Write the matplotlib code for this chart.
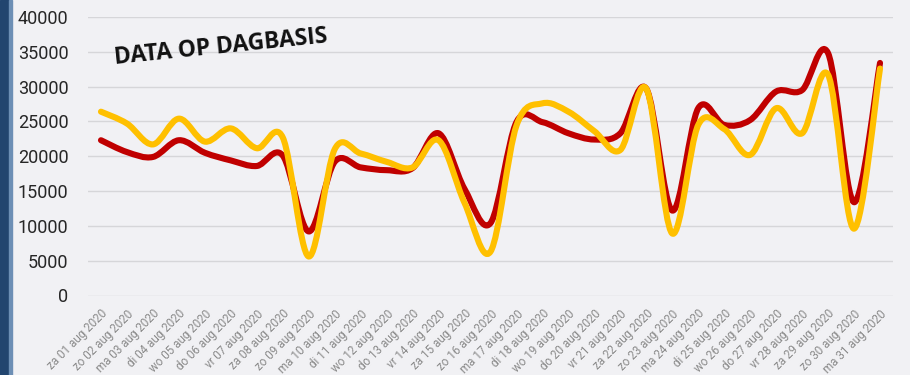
import matplotlib
matplotlib.use("Agg")
import matplotlib.pyplot as plt
import numpy as np
from matplotlib.patches import PathPatch, Rectangle
from matplotlib.path import Path

dates = [
    "za 01 aug 2020", "zo 02 aug 2020", "ma 03 aug 2020", "di 04 aug 2020",
    "wo 05 aug 2020", "do 06 aug 2020", "vr 07 aug 2020", "za 08 aug 2020",
    "zo 09 aug 2020", "ma 10 aug 2020", "di 11 aug 2020", "wo 12 aug 2020",
    "do 13 aug 2020", "vr 14 aug 2020", "za 15 aug 2020", "zo 16 aug 2020",
    "ma 17 aug 2020", "di 18 aug 2020", "wo 19 aug 2020", "do 20 aug 2020",
    "vr 21 aug 2020", "za 22 aug 2020", "zo 23 aug 2020", "ma 24 aug 2020",
    "di 25 aug 2020", "wo 26 aug 2020", "do 27 aug 2020", "vr 28 aug 2020",
    "za 29 aug 2020", "zo 30 aug 2020", "ma 31 aug 2020",
]
red_series = [
    22300, 20600, 19900, 22300, 20500, 19400, 18600, 20100, 9200, 19200,
    18400, 18000, 18300, 23300, 15300, 10400, 24900, 24900, 23300, 22400,
    23300, 29700, 12200, 26900, 24500, 25200, 29300, 29500, 34800, 13400,
    33400,
]
yellow_series = [
    26400, 24700, 21700, 25400, 22100, 24000, 21150, 22700, 5600, 21000,
    20400, 19200, 18400, 22300, 13300, 6300, 24400, 27600, 26400, 23600,
    20900, 29700, 8900, 24500, 23900, 20200, 26900, 23300, 31700, 9600,
    32600,
]
y_ticks = [0, 5000, 10000, 15000, 20000, 25000, 30000, 35000, 40000]

RED = "#C00000"
YELLOW = "#FFC000"
BG = "#F1F1F4"


def smooth_path(xs, ys, k=1 / 6):
    """Cubic Bezier through every point (Catmull-Rom style tangents)."""
    pts = np.column_stack([xs, ys]).astype(float)
    n = len(pts)
    verts = [pts[0]]
    codes = [Path.MOVETO]
    for i in range(n - 1):
        p0 = pts[i - 1] if i > 0 else pts[i]
        p1, p2 = pts[i], pts[i + 1]
        p3 = pts[i + 2] if i + 2 < n else pts[i + 1]
        c1 = p1 + (p2 - p0) * k
        c2 = p2 - (p3 - p1) * k
        verts += [c1, c2, p2]
        codes += [Path.CURVE4] * 3
    return Path(verts, codes)


fig = plt.figure(figsize=(9.1, 3.75), dpi=100, facecolor=BG)
ax = fig.add_axes([88 / 910, 1 - 295.5 / 375, 805 / 910, 278.5 / 375])
ax.set_facecolor(BG)

# dark blue slide edge on the left
fig.patches.append(Rectangle((0, 0), 9 / 910, 1, transform=fig.transFigure,
                             color="#22456f", zorder=0))
fig.patches.append(Rectangle((9 / 910, 0), 3 / 910, 1, transform=fig.transFigure,
                             color="#6d8fb5", zorder=0))

x = np.arange(len(dates))
for vals, col in ((red_series, RED), (yellow_series, YELLOW)):
    ax.add_patch(PathPatch(smooth_path(x, vals), facecolor="none", edgecolor=col,
                           lw=4.4, capstyle="round", joinstyle="round", zorder=3))

ax.set_xlim(-0.5, len(dates) - 0.5)
ax.set_ylim(0, 40000)
ax.set_yticks(y_ticks)
ax.set_yticklabels([str(v) for v in y_ticks], fontfamily="Roboto", fontsize=13,
                   color="#262626")
ax.set_xticks(x)
ax.set_xticklabels(dates, rotation=45, ha="right", va="top", rotation_mode="anchor",
                   fontfamily="Roboto", fontsize=8.4, color="#8a8a8a")
ax.tick_params(axis="y", length=0, pad=14)
ax.tick_params(axis="x", length=0, pad=8.5)
ax.grid(axis="y", color="#d6d6d9", lw=1)
ax.set_axisbelow(True)
for s in ax.spines.values():
    s.set_visible(False)

fig.text(221 / 910, 1 - 47 / 375, "DATA OP DAGBASIS", fontfamily="Open Sans",
         fontweight="bold", fontsize=16.5, color="#111111", rotation=5.8,
         ha="center", va="center", rotation_mode="anchor")

fig.savefig("out.png", dpi=100, facecolor=BG)
